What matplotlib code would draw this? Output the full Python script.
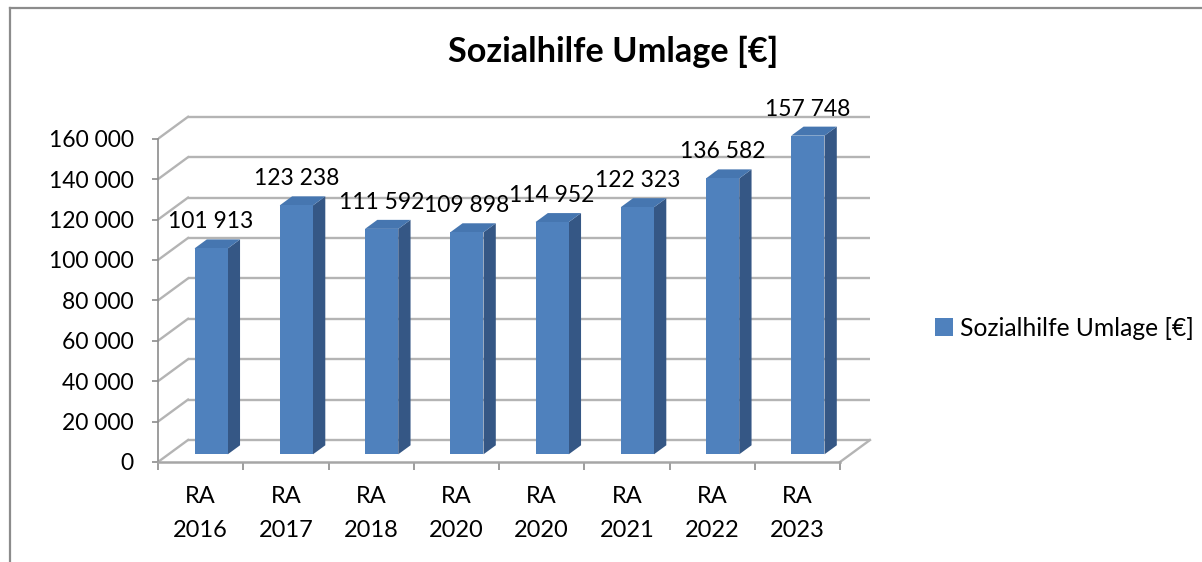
import matplotlib
matplotlib.use("Agg")
import matplotlib.pyplot as plt
from matplotlib.patches import Polygon, Patch
from matplotlib.lines import Line2D

# ---- data ----
categories = ["RA\n2016", "RA\n2017", "RA\n2018", "RA\n2020", "RA\n2020", "RA\n2021", "RA\n2022", "RA\n2023"]
values = [101913, 123238, 111592, 109898, 114952, 122323, 136582, 157748]
yticks = [0, 20000, 40000, 60000, 80000, 100000, 120000, 140000, 160000]
series_name = "Sozialhilfe Umlage [€]"
title = "Sozialhilfe Umlage [€]"

# ---- style ----
FONT = "Lato"
W, H = 1202, 562
front_c = "#4f81bd"
side_c = "#355785"
top_c = "#4676b0"
grid_c = "#b4b4b4"
axis_c = "#8c8c8c"

fig = plt.figure(figsize=(W / 100, H / 100), dpi=100)
fig.patch.set_facecolor("white")

n = len(categories)
ymax = 175000
xmax = n + 0.4
ax_left, ax_bottom = 158, 462
px_per_cat = 85.25
px_per_val = 2.02 / 1000
ax = fig.add_axes([ax_left / W, (H - ax_bottom) / H,
                   xmax * px_per_cat / W, ymax * px_per_val / H])
ax.set_xlim(0, xmax)
ax.set_ylim(0, ymax)
ax.patch.set_alpha(0)

# depth offsets (in data units)
dx = 30 / px_per_cat
dy = 22 / px_per_val
f0, f1 = 0.35, 0.76
bw = 0.39

# gridlines on back wall + left wall diagonals
for v in yticks:
    ax.plot([dx, n + dx], [v + dy, v + dy], color=grid_c, lw=1.7, zorder=1,
            solid_capstyle="butt")
    ax.plot([0, dx], [v, v + dy], color=grid_c, lw=1.7, zorder=1)
# floor right edge diagonal
ax.plot([n, n + dx], [0, dy], color=grid_c, lw=1.7, zorder=1)

# bars
for i, v in enumerate(values):
    c = i + 0.5
    x0, x1 = c - bw / 2, c + bw / 2
    front = Polygon([(x0 + f0 * dx, f0 * dy), (x1 + f0 * dx, f0 * dy),
                     (x1 + f0 * dx, v + f0 * dy), (x0 + f0 * dx, v + f0 * dy)],
                    closed=True, facecolor=front_c, edgecolor="none", zorder=3)
    side = Polygon([(x1 + f0 * dx, f0 * dy), (x1 + f1 * dx, f1 * dy),
                    (x1 + f1 * dx, v + f1 * dy), (x1 + f0 * dx, v + f0 * dy)],
                   closed=True, facecolor=side_c, edgecolor="none", zorder=3)
    top = Polygon([(x0 + f0 * dx, v + f0 * dy), (x1 + f0 * dx, v + f0 * dy),
                   (x1 + f1 * dx, v + f1 * dy), (x0 + f1 * dx, v + f1 * dy)],
                  closed=True, facecolor=top_c, edgecolor="none", zorder=3)
    for p in (side, top, front):
        ax.add_patch(p)
    lab = f"{v:,}".replace(",", " ")
    ax.annotate(lab, (c + f0 * dx, v + f1 * dy), xytext=(0, 8),
                textcoords="offset points", ha="center", va="baseline",
                fontsize=16.5, family=FONT, color="black", zorder=5)

# axes spines / ticks
for s in ("top", "right"):
    ax.spines[s].set_visible(False)
ax.spines["left"].set_bounds(0, yticks[-1])
ax.spines["bottom"].set_bounds(0, n)
ax.spines["left"].set_color(axis_c)
ax.spines["bottom"].set_color("#a6a6a6")
ax.spines["left"].set_linewidth(1.2)
ax.spines["bottom"].set_linewidth(1.8)

ax.set_yticks(yticks)
ax.set_yticklabels([f"{t:,}".replace(",", " ") for t in yticks],
                   fontsize=16.5, family=FONT)
ax.tick_params(axis="y", length=4.5, width=1.2, color=axis_c, pad=13)

ax.set_xticks(range(n + 1))
ax.set_xticklabels([])
ax.tick_params(axis="x", which="major", length=5.5, width=1.2, color=axis_c)
ax.set_xticks([i + 0.5 for i in range(n)], minor=True)
ax.set_xticklabels(categories, minor=True, fontsize=17, family=FONT,
                   linespacing=1.72)
ax.tick_params(axis="x", which="minor", length=0, pad=17.5)

# title
fig.text(613 / W, (H - 62) / H, title, ha="center", va="baseline",
         fontsize=24.7, fontweight="bold", family=FONT)

# legend
fig.legend(handles=[Patch(facecolor=front_c, edgecolor="none", label=series_name)],
           loc="center left", bbox_to_anchor=(935 / W, (H - 328) / H),
           frameon=False, prop={"family": FONT, "size": 17.7},
           handlelength=0.72, handleheight=0.72, handletextpad=0.3,
           borderpad=0, borderaxespad=0)

# chart border (top and left edges visible)
fig.add_artist(Line2D([10 / W, 10 / W], [0, (H - 8) / H], color="#8c8c8c",
                      lw=1.6, transform=fig.transFigure))
fig.add_artist(Line2D([10 / W, 1], [(H - 8) / H, (H - 8) / H], color="#8c8c8c",
                      lw=1.6, transform=fig.transFigure))

fig.savefig("out.png", dpi=100)
